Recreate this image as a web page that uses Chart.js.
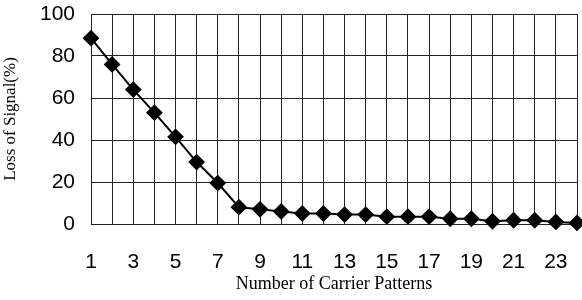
<!DOCTYPE html>
<html>
<head>
<meta charset="utf-8">
<script src="https://cdn.jsdelivr.net/npm/chart.js@4/dist/chart.umd.min.js"></script>
<style>
html,body{margin:0;padding:0;background:#fff;}
#wrap{width:582px;height:300px;position:relative;}
</style>
</head>
<body>
<div id="wrap"><canvas id="c" width="582" height="300"></canvas></div>
<script>
const categories = ["1","2","3","4","5","6","7","8","9","10","11","12","13","14","15","16","17","18","19","20","21","22","23","24"];
const lossOfSignal = [88.5, 76, 64, 53, 41.5, 29.5, 19.5, 8, 7, 6, 5, 5, 4.5, 4.5, 3.5, 3.5, 3.5, 2.5, 2.5, 1.3, 1.8, 1.8, 1, 0.5];
const yTicks = [0, 20, 40, 60, 80, 100];
const xTitle = "Number of Carrier Patterns";
const yTitle = "Loss of Signal(%)";

Chart.defaults.animation = false;
new Chart(document.getElementById('c'), {
  type: 'line',
  data: {
    labels: categories,
    datasets: [{
      data: lossOfSignal,
      borderColor: '#000',
      backgroundColor: '#000',
      borderWidth: 2,
      pointStyle: 'rectRot',
      pointRadius: 7,
      pointBackgroundColor: '#000',
      pointBorderColor: '#000',
      tension: 0,
      clip: false
    }]
  },
  options: {
    responsive: false,
    devicePixelRatio: 1,
    layout: { autoPadding: false, padding: { top: 14, right: 5, left: 0, bottom: 0 } },
    plugins: { legend: { display: false }, tooltip: { enabled: false } },
    scales: {
      x: {
        offset: false,
        grid: { color: '#222', lineWidth: 1, drawTicks: false },
        border: { display: true, color: '#222' },
        ticks: {
          autoSkip: false,
          maxRotation: 0,
          padding: 26,
          color: '#000',
          font: { family: 'Liberation Sans, Arial, sans-serif', size: 21 },
          callback: function(v, i) { return i % 2 === 0 ? categories[i] : ''; }
        },
        title: {
          display: true, text: xTitle, color: '#000',
          font: { family: 'Liberation Serif, Times New Roman, serif', size: 18 },
          padding: { top: 0, bottom: 5 }
        },
        afterFit: function(s) { s.height = 76; s.paddingLeft = 0; s.paddingRight = 0; s.paddingTop = 0; s.paddingBottom = 0; }
      },
      y: {
        min: 0, max: 100,
        afterBuildTicks: function(s) { s.ticks = yTicks.map(v => ({ value: v })); },
        grid: { color: '#222', lineWidth: 1, drawTicks: false },
        border: { display: true, color: '#222' },
        ticks: {
          padding: 16,
          color: '#000',
          font: { family: 'Liberation Sans, Arial, sans-serif', size: 21 }
        },
        title: {
          display: true, text: yTitle, color: '#000',
          font: { family: 'Liberation Serif, Times New Roman, serif', size: 17 },
          padding: { top: 0, bottom: 0 }
        },
        afterFit: function(s) { s.width = 91; s.paddingTop = 0; s.paddingBottom = 0; s.paddingLeft = 0; s.paddingRight = 0; }
      }
    }
  }
});
</script>
</body>
</html>
